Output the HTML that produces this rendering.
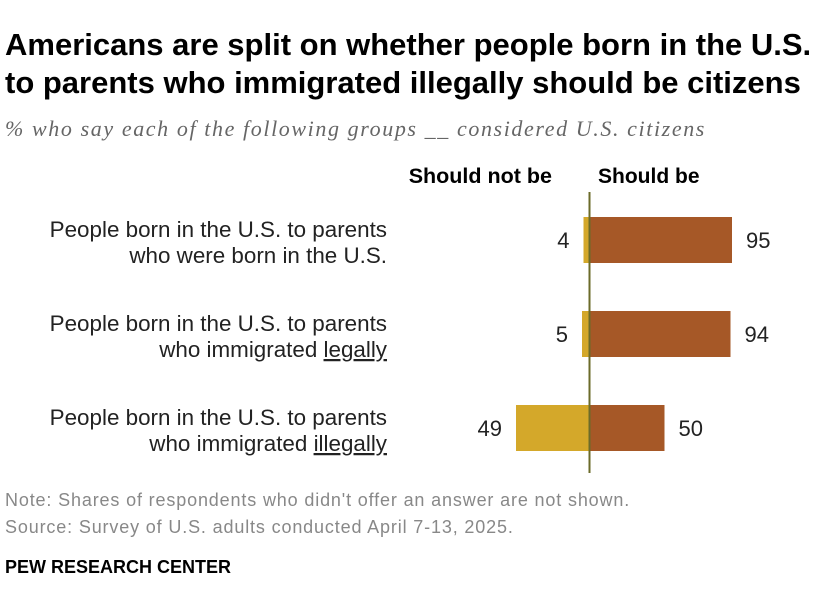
<!DOCTYPE html>
<html><head><meta charset="utf-8"><style>
body{margin:0;background:#fff;font-family:"Liberation Sans",sans-serif;}
#c{position:relative;width:840px;height:616px;overflow:hidden;}
.t{position:absolute;white-space:nowrap;}
</style></head><body>
<div id="c">
<div class="t" style="left:5px;top:26px;font-size:31px;font-weight:bold;line-height:38px;color:#000;">Americans are split on whether people born in the U.S.<br>to parents who immigrated illegally should be citizens</div>
<div class="t" style="left:5px;top:116px;font-size:22px;letter-spacing:1.6px;font-style:italic;font-family:'Liberation Serif',serif;color:#666;">% who say each of the following groups __ considered U.S. citizens</div>
<svg id="s" width="840" height="616" style="position:absolute;left:0;top:0"></svg>
<div class="t" style="left:5px;top:490px;font-size:18px;letter-spacing:0.85px;color:#888;">Note: Shares of respondents who didn't offer an answer are not shown.</div>
<div class="t" style="left:5px;top:517px;font-size:18px;letter-spacing:0.85px;color:#888;">Source: Survey of U.S. adults conducted April 7-13, 2025.</div>
<div class="t" style="left:5px;top:557px;font-size:18px;font-weight:bold;color:#000;">PEW RESEARCH CENTER</div>
</div>
<script>
const categories1=["People born in the U.S. to parents","People born in the U.S. to parents","People born in the U.S. to parents"];
const categories2=["who were born in the U.S.","who immigrated ","who immigrated "];
const underlined=["","legally","illegally"];
const shouldNot=[4,5,49];
const shouldBe=[95,94,50];
const ns="http://www.w3.org/2000/svg";
const s=document.getElementById('s');
const x0=589.5, k=1.5;
const xs=v=>v*k;
const rowY=i=>217+i*94;
function el(t,a,txt){const e=document.createElementNS(ns,t);for(const n in a)e.setAttribute(n,a[n]);if(txt!==undefined)e.textContent=txt;s.appendChild(e);return e;}
const h1=el('text',{x:552,y:183,'text-anchor':'end','font-size':21.5,'font-weight':'bold',fill:'#000'},'Should not be');

const h2=el('text',{x:598,y:183,'font-size':21,'font-weight':'bold',fill:'#000'},'Should be');

for(let i=0;i<shouldBe.length;i++){
 const y=rowY(i);
 const a=el('rect',{x:x0-xs(shouldNot[i]),y:y,width:xs(shouldNot[i]),height:46,fill:'#d4a82a'});
 
 const b=el('rect',{x:x0,y:y,width:xs(shouldBe[i]),height:46,fill:'#a65827'});
 
 const v1=el('text',{x:x0-xs(shouldNot[i])-14,y:y+31,'text-anchor':'end','font-size':22,fill:'#222'},shouldNot[i]);
 
 const v2=el('text',{x:x0+xs(shouldBe[i])+14,y:y+31,'font-size':22,fill:'#222'},shouldBe[i]);
 
 const l1=el('text',{x:387,y:y+20,'text-anchor':'end','font-size':22.4,fill:'#222'},categories1[i]);
 
 const l2=el('text',{x:387,y:y+46,'text-anchor':'end','font-size':22.4,fill:'#222'});
 
 const t1=document.createElementNS(ns,'tspan');t1.textContent=categories2[i];l2.appendChild(t1);
 if(underlined[i]){const t2=document.createElementNS(ns,'tspan');t2.setAttribute('text-decoration','underline');t2.textContent=underlined[i];l2.appendChild(t2);}
}
const ax=el('line',{x1:x0,x2:x0,y1:192,y2:473,stroke:'#6b6b2a','stroke-width':2});

</script>
</body></html>
